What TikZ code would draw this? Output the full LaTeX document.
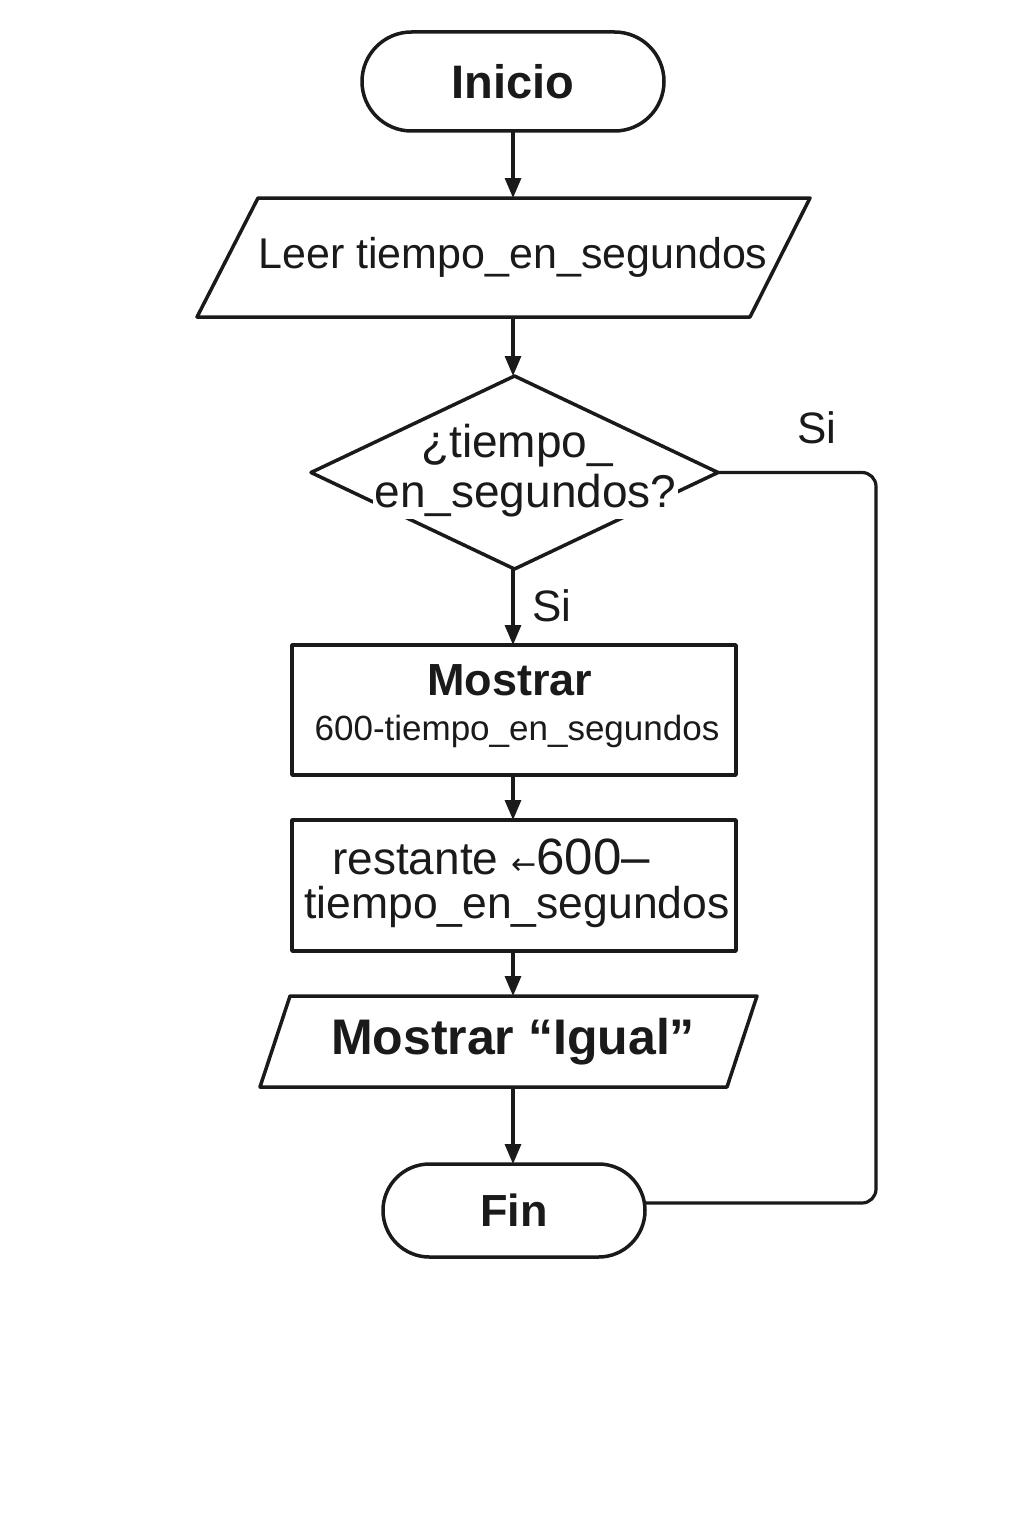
\documentclass[tikz,border=0pt]{standalone}
\usepackage{fontspec}
\setmainfont{Liberation Sans}
\newfontfamily\dv{DejaVu Sans}
\usetikzlibrary{shapes.geometric,arrows.meta}
\definecolor{ink}{HTML}{1A1A1A}
\begin{document}
\begin{tikzpicture}[x=1pt,y=-1pt,
  every node/.style={inner sep=0pt, outer sep=0pt, text=ink},
  shape line/.style={draw=ink, line width=3.5pt, line join=round},
  term/.style={shape line, rectangle, rounded corners=#1},
  flow/.style={draw=ink, line width=3.2pt, -{Triangle[length=20pt,width=16pt]}},
  loopline/.style={draw=ink, line width=3.2pt, rounded corners=14pt},
  lbl/.style={font=\fontsize{44}{48}\selectfont},
  qtext/.style={inner sep=1.5pt, font=\fontsize{46}{50}\selectfont}]
\useasboundingbox[fill=white] (0,0) rectangle (1024,1536);

% Inicio
\node[term=49.5pt, minimum width=302pt, minimum height=99pt] (inicio) at (513,81.5)
  {\fontsize{47}{50}\selectfont\bfseries Inicio};

% Leer
\node[minimum height=119pt] (leer) at (513,257.5)
  {\raisebox{-4pt}{\fontsize{43}{46}\selectfont Leer tiempo\_en\_segundos}};
\draw[shape line] ([shift={(-255,-59.5)}]leer.center) -- ([shift={(297,-59.5)}]leer.center)
  -- ([shift={(237,59.5)}]leer.center) -- ([shift={(-316,59.5)}]leer.center) -- cycle;

% Decision
\node[shape line, diamond, minimum width=407pt, minimum height=193pt] (dec) at (514.5,472.5) {};
\node[qtext] (q1) at (517,446) {¿tiempo\_};
\node[qtext, fill=white] (q2) at (525.5,496) {en\_segundos?};

% Box 1
\node[shape line, rectangle, minimum width=444pt, minimum height=130pt] (m1) at (514,710) {};
\node (m1a) at (510,680) {\fontsize{45}{48}\selectfont\bfseries Mostrar};
\node (m1b) at (517,731) {\fontsize{35}{38}\selectfont 600-tiempo\_en\_segundos};

% Box 2
\node[shape line, rectangle, minimum width=444pt, minimum height=131pt] (m2) at (514,885.5) {};
\node (m2a) at (491,857) {\fontsize{46}{50}\selectfont restante {\dv\fontsize{30}{34}\selectfont ←}\fontsize{51}{54}\selectfont 600–};
\node (m2b) at (517,907) {\fontsize{44.5}{48}\selectfont tiempo\_en\_segundos};

% Mostrar Igual
\node[minimum height=91pt] (m3) at (513,1041.5)
  {\fontsize{50}{54}\selectfont\bfseries Mostrar “Igual”};
\draw[shape line] ([shift={(-223,-45.5)}]m3.center) -- ([shift={(244,-45.5)}]m3.center)
  -- ([shift={(214,45.5)}]m3.center) -- ([shift={(-253,45.5)}]m3.center) -- cycle;

% Fin
\node[term=46.5pt, minimum width=262pt, minimum height=93pt] (fin) at (514,1210.5)
  {\fontsize{45}{48}\selectfont\bfseries Fin};

% Connectors
\draw[flow] (inicio.south) -- (leer.south |- inicio.south) -- (leer.north);
\draw[flow] (leer.south) -- (dec.north -| leer.south);
\draw[flow] (dec.south -| leer.south) -- (m1.north -| leer.south);
\node[lbl] (si1) at (552,606) {Si};
\draw[flow] (m1.south -| leer.south) -- (m2.north -| leer.south);
\draw[flow] (m2.south -| leer.south) -- (m3.north);
\draw[flow] (m3.south) -- (fin.north -| m3.south);
\draw[loopline] (dec.east) -- (876,472.5) -- (876,1203) -- ([yshift=7.5pt]fin.east);
\node[lbl] (si2) at (817,428) {Si};
\end{tikzpicture}
\end{document}
